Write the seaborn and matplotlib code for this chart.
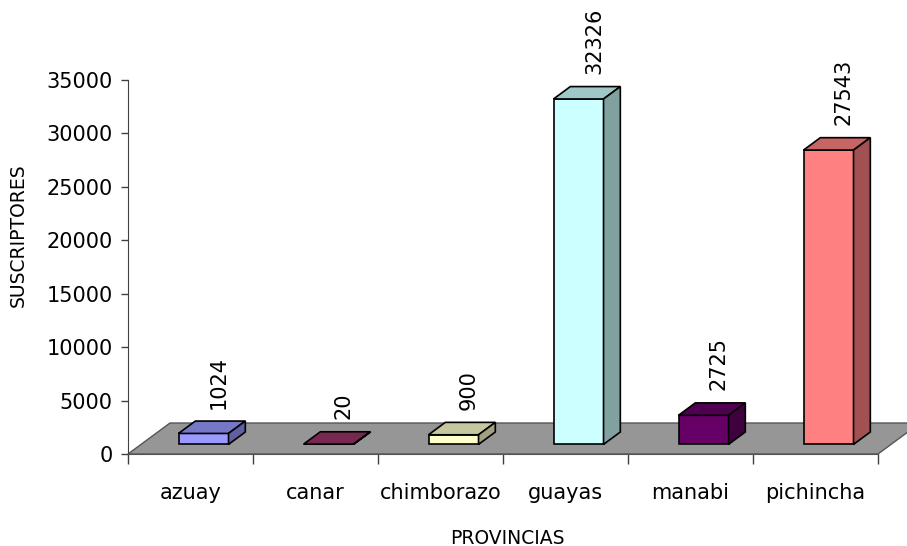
import matplotlib
matplotlib.use("Agg")
import matplotlib.pyplot as plt
import seaborn as sns
import numpy as np
from matplotlib.patches import Polygon
from matplotlib.colors import to_rgb

provincias = ["azuay", "canar", "chimborazo", "guayas", "manabi", "pichincha"]
suscriptores = [1024, 20, 900, 32326, 2725, 27543]
colores = ["#9999FF", "#993366", "#FFFFCC", "#CCFFFF", "#660066", "#FF8080"]
y_ticks = [0, 5000, 10000, 15000, 20000, 25000, 30000, 35000]

sns.set_style("white")
plt.rcParams["font.family"] = ["DejaVu Sans"]
plt.rcParams["text.color"] = "black"
plt.rcParams["axes.labelcolor"] = "black"
plt.rcParams["xtick.color"] = "black"
plt.rcParams["ytick.color"] = "black"

fig = plt.figure(figsize=(9.07, 5.46), dpi=100)
ax = fig.add_axes([128 / 907, 92 / 546, 750 / 907, 374 / 546])

# fake 3d: depth of the floor in data units, bars sit between front and back
floor_dx, floor_dy = 0.336, 2900
front, back = 0.31, 0.71

sns.barplot(x=provincias, y=suscriptores, hue=provincias, palette=colores,
            width=0.4, saturation=1, legend=False, ax=ax,
            edgecolor="black", linewidth=1.2)

n = len(provincias)
floor = Polygon([(-0.5, 0), (n - 0.5, 0), (n - 0.5 + floor_dx, floor_dy),
                 (-0.5 + floor_dx, floor_dy)], closed=True,
                facecolor="#969696", edgecolor="#555555", lw=1,
                zorder=0.5, clip_on=False)
ax.add_patch(floor)

bdx = (back - front) * floor_dx
bdy = (back - front) * floor_dy
for patch, color in zip(list(ax.patches)[:n], colores):
    x0 = patch.get_x() + front * floor_dx
    y0 = front * floor_dy
    w = patch.get_width()
    h = patch.get_height()
    patch.set_x(x0)
    patch.set_y(y0)
    patch.set_zorder(2)
    patch.set_clip_on(False)
    rgb = np.array(to_rgb(color))
    top = Polygon([(x0, y0 + h), (x0 + w, y0 + h), (x0 + w + bdx, y0 + h + bdy),
                   (x0 + bdx, y0 + h + bdy)], closed=True,
                  facecolor=rgb * 0.78, edgecolor="black", lw=1.2, zorder=2,
                  clip_on=False)
    side = Polygon([(x0 + w, y0), (x0 + w, y0 + h), (x0 + w + bdx, y0 + h + bdy),
                    (x0 + w + bdx, y0 + bdy)], closed=True,
                   facecolor=rgb * 0.63, edgecolor="black", lw=1.2, zorder=2,
                   clip_on=False)
    ax.add_patch(top)
    ax.add_patch(side)

for i, v in enumerate(suscriptores):
    ax.annotate(str(v), xy=(i + back * floor_dx, v + back * floor_dy),
                xytext=(-1, 9), textcoords="offset points", rotation=90,
                ha="center", va="bottom", fontsize=15, color="black")

ax.set_xlim(-0.5, n - 0.5)
ax.set_ylim(0, 35000)
ax.set_yticks(y_ticks)
ax.set_xticks(range(n))
ax.set_xticklabels(provincias)
ax.set_xticks(np.arange(n + 1) - 0.5, minor=True)
ax.tick_params(axis="y", left=True, length=5, width=1, color="#404040",
               labelcolor="black", labelsize=15, pad=6)
ax.tick_params(axis="x", which="major", bottom=True, length=0,
               labelcolor="black", labelsize=15, pad=21)
ax.tick_params(axis="x", which="minor", bottom=True, length=7, width=1, color="#404040")

sns.despine(ax=ax, top=True, right=True)
ax.spines["left"].set_color("#404040")
ax.spines["bottom"].set_color("#555555")

ax.set_xlabel("PROVINCIAS", fontsize=13.5, color="black")
ax.set_ylabel("SUSCRIPTORES", fontsize=13.5, color="black")
ax.xaxis.set_label_coords(0.506, -0.2)
ax.yaxis.set_label_coords(-0.133, 0.585)

fig.savefig("out.png", dpi=100)
